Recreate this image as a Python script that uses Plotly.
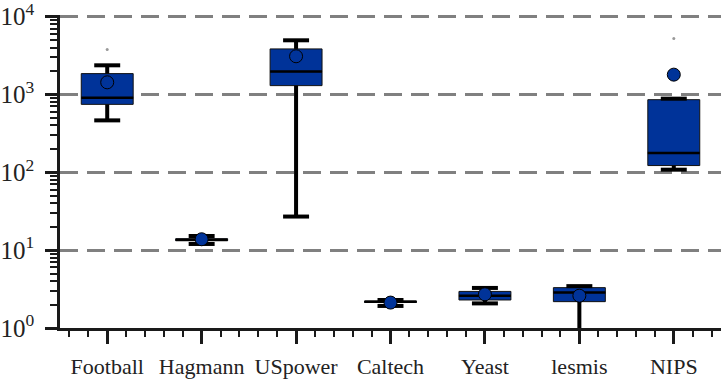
import plotly.graph_objects as go

# box statistics (log scale)
categories = ["Football", "Hagmann", "USpower", "Caltech", "Yeast", "lesmis", "NIPS"]
lower = [464, 12.0, 27, 1.92, 2.07, 0.8, 108]
q1 = [745, 13.2, 1297, 2.13, 2.29, 2.18, 122]
median = [908, 13.6, 1963, 2.17, 2.60, 2.85, 177]
q3 = [1850, 14.0, 3840, 2.22, 2.95, 3.30, 856]
upper = [2365, 15.2, 4955, 2.29, 3.27, 3.45, 882]
mean = [1430, 13.8, 3090, 2.12, 2.71, 2.60, 1795]
outlier_cat = ["Football", "NIPS"]
outlier_val = [3765, 5210]

ytick_vals = [1, 10, 100, 1000, 10000]
ytick_text = ["10<sup>0</sup>", "10<sup>1</sup>", "10<sup>2</sup>", "10<sup>3</sup>", "10<sup>4</sup>"]

BLUE = "#003399"
BOX_W = 0.55
CAP_W = 0.275
SERIF = "Liberation Serif"

xs = list(range(len(categories)))

fig = go.Figure()

# boxes (whiskers drawn separately so they can be thicker than the outline)
fig.add_trace(go.Box(
    x=xs, q1=q1, median=median, q3=q3, lowerfence=q1, upperfence=q3,
    width=BOX_W, whiskerwidth=0, fillcolor=BLUE,
    line=dict(color="#111111", width=1), boxpoints=False,
    showlegend=False, hoverinfo="skip",
))

# whiskers + caps
wx, wy = [], []
for i in xs:
    for a, b in ((q3[i], upper[i]), (q1[i], lower[i])):
        wx += [i, i, None, i - CAP_W / 2, i + CAP_W / 2, None]
        wy += [a, b, None, b, b, None]
fig.add_trace(go.Scatter(x=wx, y=wy, mode="lines",
                         line=dict(color="black", width=4),
                         showlegend=False, hoverinfo="skip"))

# medians
mx, my = [], []
for i in xs:
    mx += [i - BOX_W / 2, i + BOX_W / 2, None]
    my += [median[i], median[i], None]
fig.add_trace(go.Scatter(x=mx, y=my, mode="lines",
                         line=dict(color="black", width=2.5),
                         showlegend=False, hoverinfo="skip"))

# means
fig.add_trace(go.Scatter(x=xs, y=mean, mode="markers",
                         marker=dict(size=13, color=BLUE, line=dict(color="black", width=1)),
                         showlegend=False))

# fliers
fig.add_trace(go.Scatter(x=[categories.index(c) for c in outlier_cat], y=outlier_val,
                         mode="markers", marker=dict(size=3, color="#999999"),
                         showlegend=False))

minor_y = [m * 10 ** d for d in range(4) for m in range(2, 10)]

fig.update_layout(
    width=723, height=379,
    margin=dict(l=60, r=2, t=15, b=51, autoexpand=False),
    plot_bgcolor="white", paper_bgcolor="white",
    font=dict(family=SERIF, color="#222222"),
    xaxis=dict(
        range=[-0.5, 6.5], tickmode="array", tickvals=xs, ticktext=categories,
        showgrid=False, zeroline=False, automargin=False,
        showline=True, linecolor="#1a1a1a", linewidth=2.5,
        ticks="outside", ticklen=13, tickwidth=2.5, tickcolor="#1a1a1a",
        tickfont=dict(family=SERIF, size=22), ticklabelstandoff=4,
        minor=dict(dtick=0.2, tick0=0, ticks="outside", ticklen=6,
                   tickwidth=2, tickcolor="#1a1a1a", showgrid=False),
    ),
    yaxis=dict(
        type="log", range=[0, 4.02], tickmode="array",
        tickvals=ytick_vals, ticktext=ytick_text,
        showgrid=True, gridcolor="#808080", gridwidth=2.5, griddash="18px,9px",
        zeroline=False, automargin=False, ticklabeloverflow="allow",
        showline=True, linecolor="#1a1a1a", linewidth=2.5,
        ticks="outside", ticklen=12, tickwidth=2.5, tickcolor="#1a1a1a",
        tickfont=dict(family=SERIF, size=25), ticklabelstandoff=6,
        minor=dict(tickvals=minor_y, ticks="outside", ticklen=7,
                   tickwidth=2, tickcolor="#1a1a1a", showgrid=False),
    ),
)

# the page body has a default 8px margin; drop it so the figure sits at 0,0
fig.write_html("out.html", config={"displayModeBar": False},
               post_script="document.body.style.margin='0';")
